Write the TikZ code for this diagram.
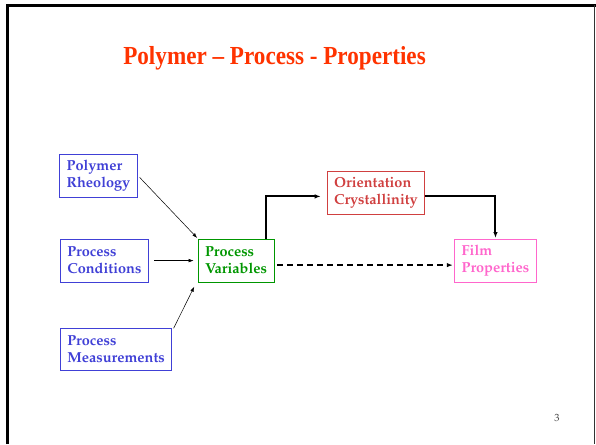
\documentclass[tikz,border=0pt]{standalone}
\usepackage[T1]{fontenc}
\usepackage{fontspec}
\setmainfont{Liberation Serif}
\usetikzlibrary{calc}
\usetikzlibrary{arrows.meta}

\definecolor{titlered}{RGB}{255,51,0}
\definecolor{boxblue}{RGB}{64,64,214}
\definecolor{boxgreen}{RGB}{0,150,0}
\definecolor{boxred}{RGB}{208,64,64}
\definecolor{boxpink}{RGB}{255,102,204}

\newcommand{\boxfont}{\fontencoding{T1}\fontfamily{ppl}\fontseries{b}\fontsize{14.5}{17}\selectfont}

\tikzset{
    slidebox/.style={draw, rectangle, anchor=north west, align=left,
        inner xsep=7pt, inner ysep=2pt, minimum height=42.5pt, line width=0.7pt,
        font=\boxfont},
    thinarrow/.style={-{Latex[length=5pt,width=3.5pt]}, line width=0.5pt},
    thickarrow/.style={-{Latex[length=6pt,width=4.5pt]}, line width=2pt}
}

\begin{document}
\begin{tikzpicture}[x=1pt,y=-1pt]

        \useasboundingbox (0,0) rectangle (596,444);

        % slide frame
        \draw[line width=3pt] (7.3,444) -- (7.3,5.5) -- (596,5.5);
        \draw[line width=1.2pt,black!80] (594.8,5.5) -- (594.8,444);

        \node[text=titlered, font=\bfseries\fontsize{26}{30}\selectfont] (title) at (274.5,58)
            {\scalebox{0.89}[1]{Polymer -- Process - Properties}};

        \node[slidebox, boxblue] (rheo) at (59.3,154.3) {Polymer\\Rheology};
        \node[slidebox, boxblue] (cond) at (60,239) {Process\\Conditions};
        \node[slidebox, boxblue] (meas) at (60,327.7) {Process\\Measurements};

        \node[slidebox, boxgreen] (var) at (197.7,239) {Process\\Variables};
        \node[slidebox, boxred] (orient) at (326.7,171.3) {Orientation\\Crystallinity};
        \node[slidebox, boxpink] (film) at (454.3,239) {Film\\Properties};

        %\draw (rheo) -- (var);
        \draw[thinarrow] ($(rheo.east)+(2,1.5)$) -- ($(var.north west)+(-0.5,-1)$);
        \draw[thinarrow, shorten <=5.5pt, shorten >=4pt] (cond.east) -- (var.west |- cond.east);
        \draw[thinarrow] ($(meas.north east)+(1.5,0.5)$) -- ($(var.south west)+(-3.5,4.5)$);

        \draw[thickarrow] ($(var.north east)+(-8.3,0)$) |- ($(orient.west)+(-6,3.5)$);
        \draw[thickarrow, shorten >=1pt] ($(orient.east)+(0,3.5)$) -| (film.north);
        \draw[thickarrow, dash pattern=on 6pt off 4pt]
            ($(var.east)+(3,4.5)$) -- ($(film.west)+(-1.5,4.5)$);

        \node[text=black!70, font=\fontencoding{T1}\fontfamily{ppl}\fontsize{10.5}{12}\selectfont] (pnum) at (557,418) {3};

\end{tikzpicture}
\end{document}
